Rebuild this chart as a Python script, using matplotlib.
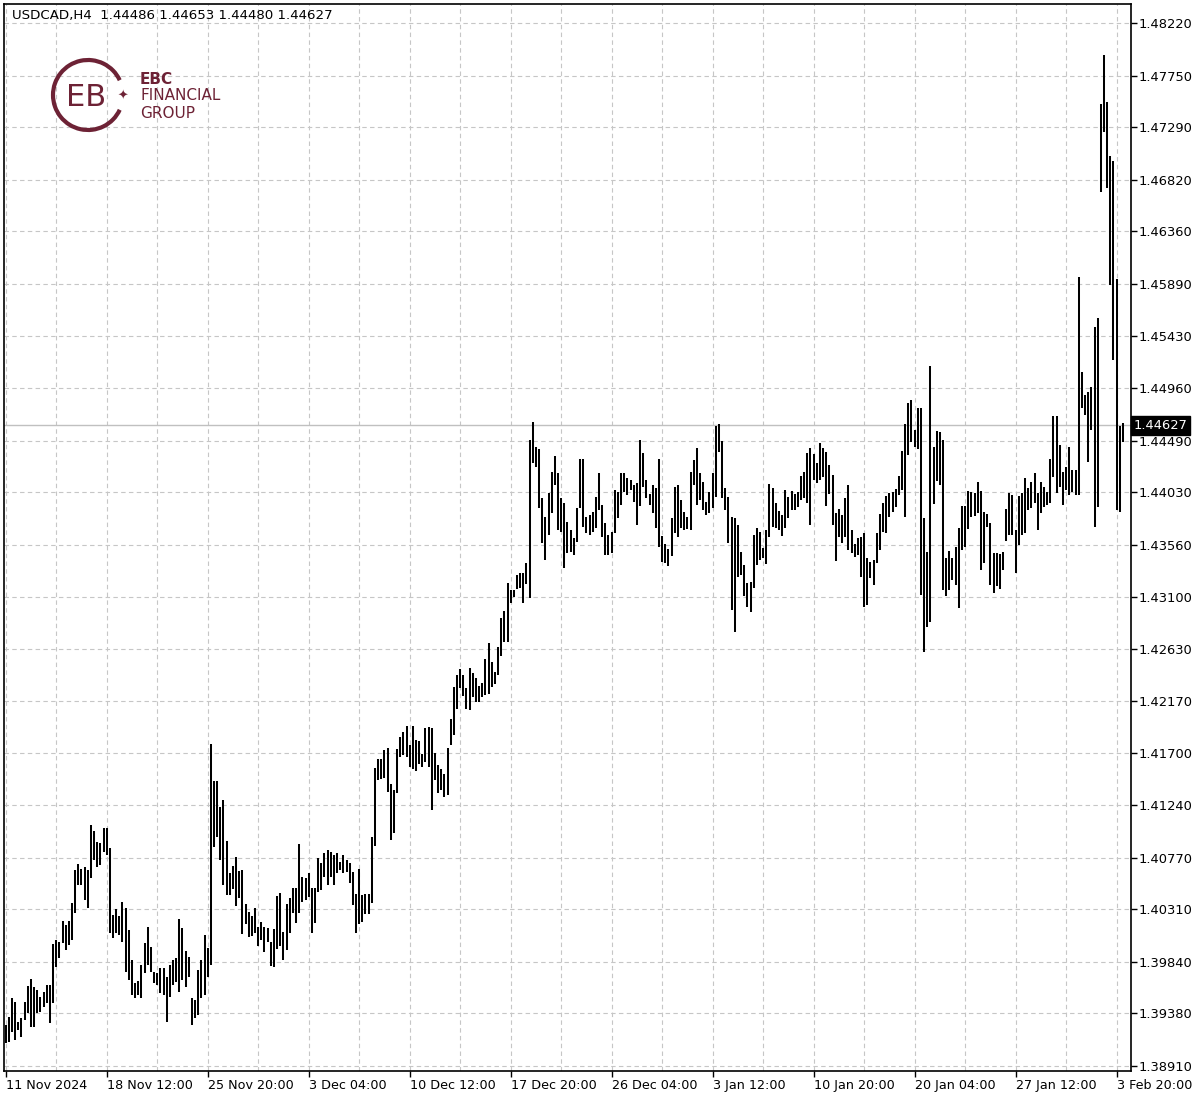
import numpy as np
import matplotlib
matplotlib.use('Agg')
import matplotlib.pyplot as plt
import matplotlib as mpl
from matplotlib.patches import Arc

# USDCAD H4 bars (high / low), oldest first
highs = [
    1.39274, 1.39346, 1.39515, 1.39480, 1.39301, 1.39337, 1.39480, 1.39622, 1.39685, 1.39614,
    1.39587, 1.39524, 1.39569, 1.39631, 1.39631, 1.39997, 1.40033, 1.40015, 1.40203, 1.40167,
    1.40203, 1.40364, 1.40658, 1.40712, 1.40667, 1.40685, 1.40658, 1.41060, 1.41006, 1.40908,
    1.40899, 1.41033, 1.41033, 1.40855, 1.40256, 1.40310, 1.40247, 1.40372, 1.40319, 1.40122,
    1.39855, 1.39649, 1.39667, 1.39810, 1.40006, 1.40149, 1.39971, 1.39747, 1.39739, 1.39783,
    1.39783, 1.39703, 1.39810, 1.39855, 1.39872, 1.40221, 1.40140, 1.39935, 1.39881, 1.39515,
    1.39497, 1.39765, 1.39855, 1.40078, 1.39962, 1.41783, 1.41453, 1.41453, 1.41221, 1.41283,
    1.40917, 1.40631, 1.40694, 1.40774, 1.40649, 1.40658, 1.40355, 1.40283, 1.40247, 1.40319,
    1.40149, 1.40194, 1.40149, 1.40140, 1.40015, 1.40131, 1.40426, 1.40453, 1.40105, 1.40355,
    1.40408, 1.40497, 1.40497, 1.40890, 1.40596, 1.40587, 1.40631, 1.40497, 1.40497, 1.40765,
    1.40721, 1.40810, 1.40837, 1.40819, 1.40792, 1.40810, 1.40730, 1.40792, 1.40747, 1.40721,
    1.40640, 1.40444, 1.40667, 1.40435, 1.40444, 1.40444, 1.40953, 1.41569, 1.41649, 1.41649,
    1.41730, 1.41747, 1.41426, 1.41372, 1.41739, 1.41846, 1.41890, 1.41944, 1.41774, 1.41944,
    1.41819, 1.41810, 1.41694, 1.41926, 1.41935, 1.41926, 1.41703, 1.41596, 1.41560, 1.41515,
    1.41747, 1.42006, 1.42292, 1.42399, 1.42453, 1.42399, 1.42283, 1.42462, 1.42417, 1.42372,
    1.42301, 1.42328, 1.42542, 1.42685, 1.42515, 1.42426, 1.42649, 1.42908, 1.42971, 1.43221,
    1.43158, 1.43158, 1.43292, 1.43310, 1.43310, 1.43399, 1.44498, 1.44658, 1.44435, 1.44417,
    1.43980, 1.43810, 1.44024, 1.44212, 1.44355, 1.44203, 1.43980, 1.43935, 1.43765, 1.43694,
    1.43623, 1.43890, 1.44328, 1.44328, 1.43810, 1.43828, 1.43855, 1.43989, 1.44203, 1.43917,
    1.43756, 1.43649, 1.43676, 1.44051, 1.44033, 1.44203, 1.44203, 1.44158, 1.44140, 1.44096,
    1.44114, 1.44498, 1.44381, 1.44140, 1.44015, 1.44096, 1.44069, 1.44328, 1.43640, 1.43569,
    1.43524, 1.43801, 1.44078, 1.44096, 1.43962, 1.43855, 1.43810, 1.44212, 1.44319, 1.44426,
    1.44203, 1.44123, 1.43944, 1.44033, 1.44203, 1.44623, 1.44640, 1.44489, 1.44069, 1.43989,
    1.43810, 1.43801, 1.43739, 1.43497, 1.43381, 1.43221, 1.43230, 1.43649, 1.43712, 1.43676,
    1.43533, 1.43694, 1.44105, 1.44069, 1.43935, 1.43864, 1.43828, 1.44051, 1.43989, 1.44042,
    1.44015, 1.44033, 1.44176, 1.44212, 1.44381, 1.44426, 1.44373, 1.44292, 1.44471, 1.44426,
    1.44390, 1.44274, 1.44185, 1.43846, 1.43881, 1.43828, 1.43980, 1.44096, 1.43694, 1.43569,
    1.43623, 1.43631, 1.43667, 1.43444, 1.43408, 1.43426, 1.43667, 1.43837, 1.43935, 1.43998,
    1.44024, 1.44033, 1.44060, 1.44176, 1.44399, 1.44640, 1.44828, 1.44855, 1.44587, 1.44783,
    1.44783, 1.43801, 1.43497, 1.45158, 1.44435, 1.44578, 1.44569, 1.44498, 1.43444, 1.43506,
    1.43444, 1.43542, 1.43712, 1.43908, 1.43908, 1.44042, 1.44033, 1.44024, 1.44123, 1.44042,
    1.43855, 1.43837, 1.43756, 1.43489, 1.43489, 1.43480, 1.43497, 1.43881, 1.44024, 1.44006,
    1.43694, 1.43998, 1.44024, 1.44158, 1.44069, 1.44123, 1.44203, 1.44024, 1.44123, 1.44078,
    1.44033, 1.44328, 1.44712, 1.44712, 1.44453, 1.44212, 1.44256, 1.44435, 1.44230, 1.44230,
    1.45953, 1.45105, 1.44899, 1.44926, 1.44971, 1.45506, 1.45587, 1.47498, 1.47935, 1.47515,
    1.47033, 1.46989, 1.45935, 1.44623, 1.44653,
]
lows = [
    1.39114, 1.39122, 1.39212, 1.39140, 1.39230, 1.39167, 1.39319, 1.39381, 1.39256, 1.39256,
    1.39381, 1.39390, 1.39435, 1.39471, 1.39292, 1.39471, 1.39792, 1.39872, 1.40006, 1.39944,
    1.39989, 1.40033, 1.40274, 1.40524, 1.40524, 1.40390, 1.40319, 1.40587, 1.40747, 1.40685,
    1.40703, 1.40819, 1.40792, 1.40096, 1.40051, 1.40096, 1.40078, 1.40015, 1.39747, 1.39676,
    1.39542, 1.39515, 1.39542, 1.39515, 1.39739, 1.39810, 1.39747, 1.39649, 1.39631, 1.39560,
    1.39542, 1.39301, 1.39524, 1.39631, 1.39658, 1.39569, 1.39676, 1.39614, 1.39703, 1.39274,
    1.39337, 1.39364, 1.39515, 1.39542, 1.39703, 1.39810, 1.40864, 1.40953, 1.40747, 1.40524,
    1.40435, 1.40435, 1.40489, 1.40337, 1.40408, 1.40087, 1.40176, 1.40060, 1.40069, 1.40096,
    1.39980, 1.40033, 1.39926, 1.40015, 1.39801, 1.39792, 1.39953, 1.39980, 1.39855, 1.39944,
    1.40096, 1.40274, 1.40185, 1.40274, 1.40372, 1.40390, 1.40417, 1.40096, 1.40185, 1.40462,
    1.40480, 1.40596, 1.40524, 1.40596, 1.40524, 1.40631, 1.40658, 1.40631, 1.40640, 1.40542,
    1.40346, 1.40096, 1.40176, 1.40194, 1.40265, 1.40265, 1.40364, 1.40872, 1.41462, 1.41471,
    1.41480, 1.41355, 1.40926, 1.40989, 1.41346, 1.41667, 1.41685, 1.41667, 1.41578, 1.41560,
    1.41542, 1.41605, 1.41578, 1.41622, 1.41578, 1.41194, 1.41462, 1.41346, 1.41372, 1.41310,
    1.41328, 1.41774, 1.41864, 1.42096, 1.42283, 1.42212, 1.42096, 1.42087, 1.42203, 1.42158,
    1.42158, 1.42203, 1.42221, 1.42230, 1.42292, 1.42319, 1.42399, 1.42569, 1.42694, 1.42694,
    1.43042, 1.43096, 1.43167, 1.43176, 1.43042, 1.43212, 1.43087, 1.44292, 1.44256, 1.43890,
    1.43578, 1.43426, 1.43649, 1.43846, 1.44096, 1.43694, 1.43676, 1.43355, 1.43489, 1.43497,
    1.43471, 1.43587, 1.43890, 1.43721, 1.43667, 1.43649, 1.43676, 1.43712, 1.43873, 1.43631,
    1.43471, 1.43471, 1.43489, 1.43667, 1.43801, 1.43917, 1.44033, 1.44006, 1.44051, 1.43944,
    1.43739, 1.43908, 1.44078, 1.43980, 1.43917, 1.43846, 1.43712, 1.43542, 1.43408, 1.43399,
    1.43373, 1.43462, 1.43667, 1.43631, 1.43712, 1.43694, 1.43703, 1.43694, 1.44096, 1.43917,
    1.43962, 1.43873, 1.43828, 1.43846, 1.43890, 1.43989, 1.44390, 1.43980, 1.43873, 1.43578,
    1.42980, 1.42783, 1.43274, 1.43292, 1.43105, 1.43006, 1.42962, 1.43176, 1.43381, 1.43426,
    1.43444, 1.43390, 1.43631, 1.43721, 1.43712, 1.43694, 1.43640, 1.43712, 1.43801, 1.43873,
    1.43873, 1.43899, 1.43962, 1.43980, 1.43935, 1.43739, 1.44140, 1.44114, 1.44140, 1.44167,
    1.43908, 1.44015, 1.43739, 1.43417, 1.43631, 1.43578, 1.43631, 1.43515, 1.43489, 1.43453,
    1.43471, 1.43274, 1.43006, 1.43024, 1.43265, 1.43203, 1.43399, 1.43515, 1.43676, 1.43667,
    1.43810, 1.43855, 1.43899, 1.44006, 1.44051, 1.43810, 1.44364, 1.44480, 1.44435, 1.44417,
    1.43114, 1.42605, 1.42828, 1.42873, 1.43926, 1.44131, 1.44096, 1.43158, 1.43105, 1.43158,
    1.43248, 1.43203, 1.42998, 1.43515, 1.43542, 1.43703, 1.43810, 1.43819, 1.43846, 1.43337,
    1.43399, 1.43721, 1.43203, 1.43131, 1.43194, 1.43167, 1.43337, 1.43596, 1.43649, 1.43649,
    1.43310, 1.43560, 1.43649, 1.43667, 1.43873, 1.43890, 1.43935, 1.43694, 1.43846, 1.43899,
    1.43917, 1.43935, 1.44167, 1.44024, 1.44078, 1.43917, 1.44051, 1.44006, 1.44033, 1.44006,
    1.44006, 1.44783, 1.44721, 1.44301, 1.44587, 1.43721, 1.43899, 1.46712, 1.47248, 1.46748,
    1.45881, 1.45212, 1.43872, 1.43855, 1.44480,
]

# time axis labels (one every 32 bars)
time_labels = ['11 Nov 2024', '18 Nov 12:00', '25 Nov 20:00', '3 Dec 04:00',
               '10 Dec 12:00', '17 Dec 20:00', '26 Dec 04:00', '3 Jan 12:00',
               '10 Jan 20:00', '20 Jan 04:00', '27 Jan 12:00', '3 Feb 20:00']
label_step = 32

# price scale labels
price_ticks = [1.38910, 1.39380, 1.39840, 1.40310, 1.40770, 1.41240, 1.41700,
               1.42170, 1.42630, 1.43100, 1.43560, 1.44030, 1.44490, 1.44960,
               1.45430, 1.45890, 1.46360, 1.46820, 1.47290, 1.47750, 1.48220]

symbol = 'USDCAD,H4'
last_ohlc = [1.44486, 1.44653, 1.44480, 1.44627]

W, H = 1200, 1102
mpl.rc('font', family='DejaVu Sans', size=9)

fig = plt.figure(figsize=(W / 100, H / 100), dpi=100)
fig.patch.set_facecolor('white')

# plot frame in pixels: left 4, right 1131, top 4, bottom 1071
ax = fig.add_axes([4 / W, 1 - 1071 / H, 1127 / W, 1067 / H])
ax.set_facecolor('white')

x = np.arange(len(highs))
ax.vlines(x, lows, highs, color='black', lw=1.45, zorder=3)

ax.set_xlim(-0.54, 356.56)
ax.set_ylim(1.38864, 1.48390)

# grid: dashed light gray, vertical every 16 bars
grid_kw = dict(color='#c6c6c6', lw=0.8, linestyle=(0, (4, 3)))
ax.set_xticks(np.arange(len(time_labels)) * label_step)
ax.set_xticklabels(time_labels, ha='left')
ax.set_xticks(np.arange(16, 357, 32), minor=True)
ax.grid(True, which='both', axis='x', zorder=0, **grid_kw)
ax.grid(True, which='major', axis='y', zorder=0, **grid_kw)
ax.tick_params(axis='x', which='major', length=4, width=1, pad=1.5,
               labelsize=9.2)
ax.tick_params(axis='x', which='minor', length=0)
for lbl in ax.get_xticklabels():
    lbl.set_x(lbl.get_position()[0])

ax.yaxis.tick_right()
ax.set_yticks(price_ticks)
ax.set_yticklabels([f'{p:.5f}' for p in price_ticks])
ax.tick_params(axis='y', length=4, width=1, pad=1.5, labelsize=9.4)

for s in ax.spines.values():
    s.set_linewidth(1.2)
    s.set_color('black')

# current price line and price tag
ax.axhline(last_ohlc[3], color='#c0c0c0', lw=1, zorder=2)
ax.annotate(f'{last_ohlc[3]:.5f}', xy=(1.0, last_ohlc[3]),
            xycoords=('axes fraction', 'data'), xytext=(2.0, 0),
            textcoords='offset points', ha='left', va='center',
            color='white', fontsize=9.4, zorder=10,
            bbox=dict(boxstyle='square,pad=0.2', fc='black', ec='black'),
            annotation_clip=False)

# chart header
header = symbol + '  ' + ' '.join(f'{v:.5f}' for v in last_ohlc)
fig.text(12 / W, 1 - 16 / H, header, ha='left', va='center', fontsize=9.6)

# EBC logo (approximation)
logo_col = '#6d2235'
lax = fig.add_axes([0, 0, 1, 1], facecolor='none')
lax.set_xlim(0, W)
lax.set_ylim(H, 0)
lax.axis('off')
lax.add_patch(Arc((88, 95), 70, 70, theta1=25, theta2=335,
                  color=logo_col, lw=3.0))
lax.text(86, 97, 'EB', color=logo_col, fontsize=22, ha='center',
         va='center', fontweight='normal')
lax.text(123, 96, '\u2726', color=logo_col, fontsize=9, ha='center',
         va='center')
lax.text(140, 79, 'EBC', color=logo_col, fontsize=11, fontweight='bold',
         ha='left', va='center')
lax.text(140, 96, 'FINANCIAL', color=logo_col, fontsize=11, ha='left',
         va='center')
lax.text(140, 113, 'GROUP', color=logo_col, fontsize=11, ha='left',
         va='center')

fig.savefig('out.png', dpi=100, facecolor='white')
